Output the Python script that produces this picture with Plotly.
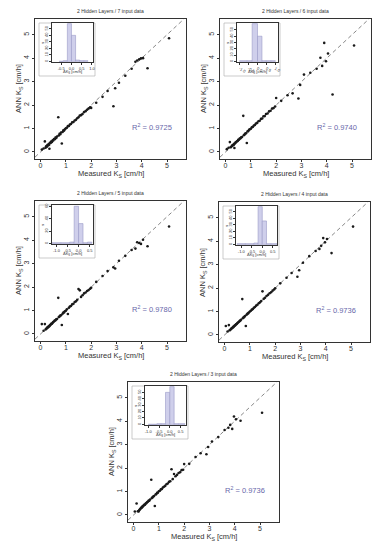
import plotly.graph_objects as go

# browser page is 386x550 but the body has an 8px margin, so the figure is drawn smaller
PAGE_W, PAGE_H = 386, 550
OFF = 8
W, H = PAGE_W - 2 * OFF, PAGE_H - 2 * OFF

titles = ["2 Hidden Layers / 7 input data", "2 Hidden Layers / 6 input data",
          "2 Hidden Layers / 5 input data", "2 Hidden Layers / 4 input data",
          "2 Hidden Layers / 3 input data"]
r2_labels = ["0.9725", "0.9740", "0.9780", "0.9736", "0.9736"]

measured = [0.05, 0.12, 0.17, 0.20, 0.22, 0.25, 0.27, 0.30, 0.32, 0.34,
            0.35, 0.37, 0.40, 0.42, 0.45, 0.48, 0.50, 0.53, 0.56, 0.59,
            0.62, 0.65, 0.70, 0.72, 0.75, 0.78, 0.81, 0.84, 0.87, 0.90,
            0.93, 0.96, 1.00, 1.04, 1.08, 1.12, 1.16, 1.20, 1.25, 1.30,
            1.35, 1.40, 1.45, 1.50, 1.55, 1.60, 1.66, 1.72, 1.78, 1.84,
            1.90, 1.96, 2.00, 2.20, 2.45, 2.65, 2.88, 2.95, 3.10, 3.35,
            3.60, 3.75, 3.82, 3.90, 3.97, 4.05, 4.23, 5.08]

ann_7 = [0.10, 0.15, 0.45, 0.18, 0.24, 0.22, 0.30, 0.28, 0.34, 0.31,
         0.14, 0.39, 0.38, 0.44, 0.43, 0.50, 0.49, 0.55, 0.54, 0.61,
         0.60, 0.66, 1.48, 0.70, 0.77, 0.76, 0.83, 0.36, 0.85, 0.92,
         0.91, 0.97, 1.01, 1.03, 1.10, 1.11, 1.17, 1.19, 1.26, 1.28,
         1.34, 1.37, 1.44, 1.48, 1.55, 1.57, 1.62, 1.70, 1.74, 1.80,
         1.85, 1.90, 1.88, 2.10, 2.35, 2.60, 1.95, 2.72, 2.95, 3.25,
         3.55, 3.85, 3.90, 3.95, 3.99, 4.00, 3.57, 4.85]
ann_6 = [0.12, 0.18, 0.42, 0.20, 0.21, 0.26, 0.27, 0.31, 0.30, 0.35,
         0.17, 0.36, 0.41, 0.42, 0.46, 0.47, 0.52, 0.52, 0.57, 0.58,
         0.63, 0.64, 1.54, 0.71, 0.74, 0.79, 0.80, 0.38, 0.88, 0.89,
         0.95, 0.97, 0.99, 1.05, 1.07, 1.13, 1.15, 1.21, 1.24, 1.31,
         1.33, 1.41, 1.43, 1.52, 1.53, 1.62, 1.64, 1.73, 1.76, 1.85,
         1.87, 1.94, 2.30, 2.18, 2.42, 2.50, 2.28, 2.86, 3.30, 3.38,
         3.55, 4.02, 3.67, 4.65, 3.87, 4.20, 2.45, 4.54]
ann_5 = [0.42, 0.14, 0.42, 0.19, 0.22, 0.24, 0.28, 0.29, 0.33, 0.33,
         0.34, 0.38, 0.39, 0.43, 0.44, 0.48, 0.51, 0.53, 0.57, 0.58,
         0.63, 0.64, 1.54, 0.72, 0.74, 0.79, 0.80, 0.38, 0.86, 0.91,
         0.92, 0.97, 0.99, 1.05, 0.85, 1.12, 1.17, 1.19, 1.26, 1.29,
         1.36, 1.39, 1.46, 1.92, 1.86, 1.58, 1.65, 1.73, 1.77, 1.83,
         1.87, 1.93, 1.97, 2.22, 2.47, 2.68, 2.84, 2.79, 3.12, 3.33,
         3.58, 3.64, 3.91, 3.88, 3.84, 4.02, 3.74, 4.58]
ann_4 = [0.38, 0.15, 0.42, 0.20, 0.21, 0.25, 0.27, 0.30, 0.32, 0.33,
         0.35, 0.37, 0.40, 0.41, 0.45, 0.47, 0.50, 0.53, 0.55, 0.59,
         0.61, 0.65, 1.53, 0.71, 0.75, 0.77, 0.81, 0.38, 0.86, 0.90,
         0.92, 0.96, 1.00, 1.03, 1.08, 1.11, 1.16, 1.19, 1.25, 1.29,
         1.35, 1.39, 1.45, 1.86, 1.54, 1.59, 1.66, 1.71, 1.78, 1.82,
         1.89, 1.94, 1.99, 2.20, 2.44, 2.64, 2.48, 2.76, 3.08, 3.36,
         3.58, 3.67, 3.80, 4.13, 3.95, 4.09, 3.49, 4.62]
ann_3 = [0.15, 0.49, 0.16, 0.15, 0.20, 0.24, 0.26, 0.31, 0.31, 0.35,
         0.34, 0.38, 0.40, 0.43, 0.44, 0.49, 0.50, 0.54, 0.56, 0.60,
         0.61, 0.66, 1.50, 0.72, 0.75, 0.79, 0.81, 0.38, 0.87, 0.89,
         0.94, 0.95, 1.01, 1.03, 1.09, 1.11, 1.17, 1.20, 1.24, 1.31,
         1.34, 1.41, 1.44, 1.95, 1.53, 1.75, 1.65, 1.71, 1.79, 1.82,
         1.91, 1.93, 2.17, 2.18, 2.47, 2.63, 2.59, 2.90, 3.13, 3.32,
         3.62, 3.72, 3.84, 3.67, 4.20, 4.08, 4.02, 4.36]
predicted = [ann_7, ann_6, ann_5, ann_4, ann_3]

main_ticks = [0, 1, 2, 3, 4, 5]

# inset histograms of error (ANN - measured): bin edges and counts
hist_edges = [
    [-0.6, -0.4, -0.2, 0.0, 0.2, 0.4, 0.6, 0.8],
    [-1.0, -0.6, -0.3, 0.0, 0.25, 0.5, 0.75, 1.0],
    [-1.2, -0.8, -0.4, -0.2, 0.0, 0.2, 0.4, 0.6],
    [-1.2, -0.8, -0.4, -0.2, 0.0, 0.2, 0.4, 0.7],
    [-1.0, -0.6, -0.4, -0.2, 0.0, 0.2, 0.4, 0.7],
]
hist_counts = [
    [0, 1, 58, 40, 2, 1, 1],
    [1, 1, 60, 40, 1, 1, 1],
    [1, 1, 2, 60, 32, 1, 2],
    [1, 1, 2, 58, 36, 1, 1],
    [0, 1, 1, 50, 59, 1, 1],
]
hist_xranges = [[-0.95, 1.05], [-1.15, 1.15], [-1.2, 0.65], [-1.25, 0.7], [-1.15, 0.75]]
hist_xticks = [[-0.5, 0.0, 0.5, 1.0], [-1.0, -0.5, 0.0, 0.5, 1.0],
               [-1.0, -0.5, 0.0, 0.5], [-1.0, -0.5, 0.0, 0.5], [-1.0, -0.5, 0.0, 0.5]]
hist_yticks = [[0, 10, 20, 30, 40, 50], [0, 10, 20, 30, 40, 50], [0, 20, 40, 60],
               [0, 10, 20, 30, 40, 50], [0, 10, 20, 30, 40, 50]]
hist_ymax = [59, 61, 62, 59, 60]

X_RANGE = [-0.22, 5.75]
Y_RANGE = [-0.3, 5.67]

# panel placement (page pixels: left, top), size
panels = [(35, 19), (220, 19), (35, 201), (219, 202), (128, 382)]
PW, PH = 151, 140

FONT = "Liberation Sans, Arial, sans-serif"
DARK = "#333333"

fig = go.Figure()
layout = dict(width=W, height=H, margin=dict(l=0, r=0, t=0, b=0, autoexpand=False),
              paper_bgcolor="white", plot_bgcolor="white", showlegend=False,
              font=dict(family=FONT, color=DARK), template="none")
annotations = []
shapes = []


def fx(x):
    return (x - OFF) / W


def fy(y):
    return 1 - (y - OFF) / H


def xdom(x0, x1):
    return [fx(x0), fx(x1)]


def ydom(y0, y1):
    return [fy(y1), fy(y0)]


def paper_text(text, x, y, size, angle=0):
    return dict(text=text, x=fx(x), y=fy(y), xref="paper", yref="paper",
                xanchor="center", yanchor="middle", showarrow=False, textangle=angle,
                font=dict(size=size, color=DARK))


for i in range(5):
    px, py = panels[i]
    k = i + 1
    ks = "" if k == 1 else str(k)
    # main scatter
    fig.add_trace(go.Scatter(x=X_RANGE, y=X_RANGE, mode="lines",
                             line=dict(color="#888888", width=1, dash="4px,3px"),
                             xaxis="x" + ks, yaxis="y" + ks, hoverinfo="skip"))
    fig.add_trace(go.Scatter(x=measured, y=predicted[i], mode="markers",
                             marker=dict(color="#1a1a1a", size=2.6, line=dict(width=0)),
                             xaxis="x" + ks, yaxis="y" + ks))
    layout["xaxis" + ks] = dict(domain=xdom(px, px + PW), range=X_RANGE, anchor="y" + ks,
                                tickvals=main_ticks, ticks="outside", ticklen=2,
                                ticklabelstandoff=-2,
                                tickcolor=DARK, showline=True, mirror=True, linecolor=DARK,
                                linewidth=1, showgrid=False, zeroline=False, automargin=False,
                                tickfont=dict(size=7, color=DARK))
    layout["yaxis" + ks] = dict(domain=ydom(py, py + PH), range=Y_RANGE, anchor="x" + ks,
                                tickvals=main_ticks, ticks="outside", ticklen=2,
                                tickcolor=DARK, showline=True, mirror=True, linecolor=DARK,
                                linewidth=1, showgrid=False, zeroline=False, tickangle=-90,
                                automargin=False, tickfont=dict(size=7, color=DARK))
    # titles and labels
    annotations.append(paper_text(titles[i], px + PW / 2, py - 8, 5))
    annotations.append(paper_text("Measured K<sub>S</sub> [cm/h]", px + PW / 2,
                                  py + PH + 15, 7.5))
    annotations.append(paper_text("ANN K<sub>S</sub> [cm/h]", px - 16, py + PH / 2, 7.5, -90))
    annotations.append(dict(text="R<sup>2</sup> = " + r2_labels[i], x=4.4, y=1.05,
                            xref="x" + ks, yref="y" + ks, showarrow=False,
                            xanchor="center", yanchor="middle",
                            font=dict(size=7.5, color="#6868aa")))

    # inset histogram
    j = k + 5
    js = str(j)
    shapes.append(dict(type="rect", xref="paper", yref="paper",
                       x0=fx(px + 4), x1=fx(px + 60),
                       y0=fy(py + 57), y1=fy(py + 4),
                       fillcolor="white", line=dict(color="#aaaaaa", width=0.6),
                       layer="below"))
    edges = hist_edges[i]
    centers = [(edges[m] + edges[m + 1]) / 2 for m in range(len(edges) - 1)]
    widths = [edges[m + 1] - edges[m] for m in range(len(edges) - 1)]
    fig.add_trace(go.Bar(x=centers, y=hist_counts[i], width=widths,
                         marker=dict(color="#cfcfeb", line=dict(color="#9a9ac8", width=0.6)),
                         xaxis="x" + js, yaxis="y" + js))
    layout["xaxis" + js] = dict(domain=xdom(px + 17, px + 58), range=hist_xranges[i],
                                anchor="y" + js, tickvals=hist_xticks[i],
                                ticktext=["%.1f" % v for v in hist_xticks[i]],
                                ticks="outside", ticklen=2, tickcolor=DARK, tickwidth=0.6,
                                showline=True, mirror=True, linecolor=DARK, linewidth=0.6,
                                showgrid=False, zeroline=False, automargin=False,
                                tickfont=dict(size=4, color=DARK))
    layout["yaxis" + js] = dict(domain=ydom(py + 4, py + 43), range=[-1, hist_ymax[i]],
                                anchor="x" + js, tickvals=hist_yticks[i],
                                ticks="outside", ticklen=2, tickcolor=DARK, tickwidth=0.6,
                                showline=True, mirror=True, linecolor=DARK, linewidth=0.6,
                                showgrid=False, zeroline=False, tickangle=-90,
                                automargin=False, tickfont=dict(size=4, color=DARK))
    annotations.append(paper_text("\u0394K<sub>S</sub> [cm/h]", px + 37, py + 53, 4))
    annotations.append(paper_text("n", px + 7, py + 24, 4, -90))

layout["annotations"] = annotations
layout["shapes"] = shapes
fig.update_layout(**layout)
fig.write_html("out.html")
